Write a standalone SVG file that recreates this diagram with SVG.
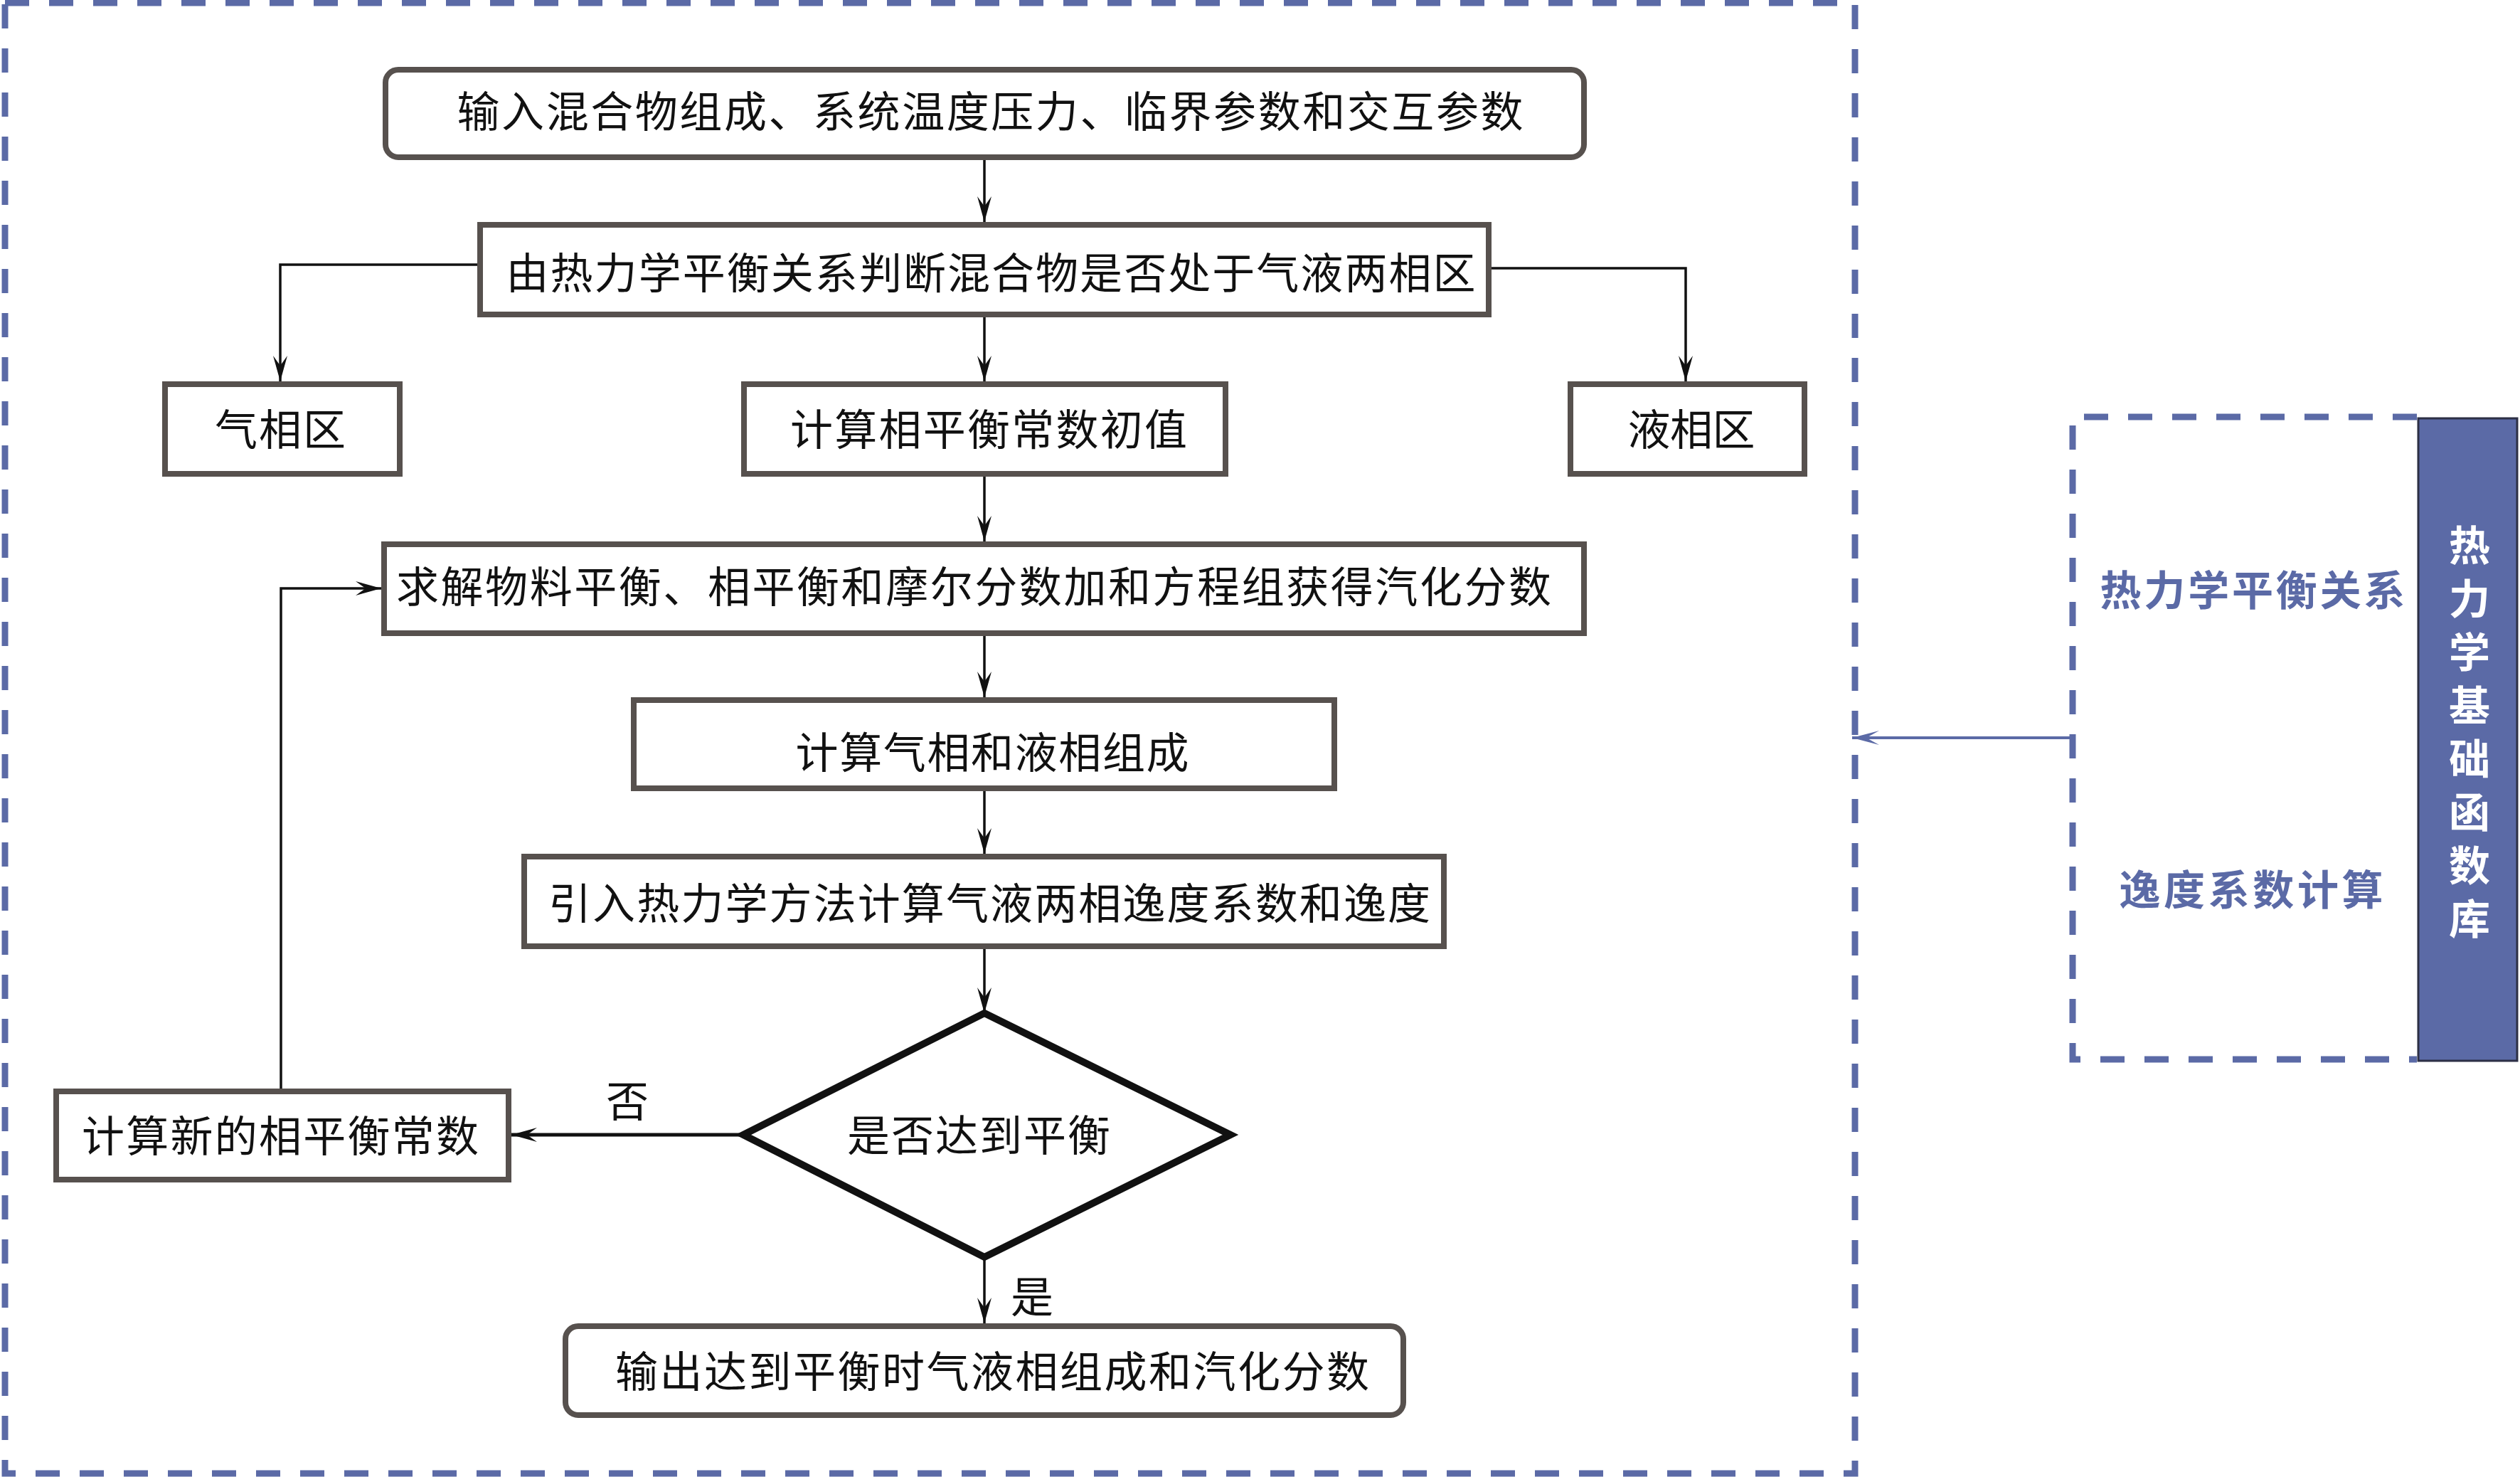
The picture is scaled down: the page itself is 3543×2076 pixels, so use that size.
<svg xmlns="http://www.w3.org/2000/svg" width="3543" height="2076" viewBox="0 0 3543 2076">
<style>
.box{fill:#ffffff;stroke:#57514e;stroke-width:8}
.dia{fill:#ffffff;stroke:#111111;stroke-width:10;stroke-linejoin:miter}
.t{font-family:"Noto Sans CJK SC","Noto Sans CJK JP",sans-serif;font-size:60px;fill:#111111;text-anchor:middle}
.bt{font-family:"Noto Sans CJK SC","Noto Sans CJK JP",sans-serif;font-size:58px;fill:#5b6aa6;text-anchor:middle;font-weight:bold}
.wt{font-family:"Noto Sans CJK SC","Noto Sans CJK JP",sans-serif;font-size:58px;fill:#ffffff;font-weight:bold;writing-mode:vertical-rl;text-orientation:upright}
.ln{fill:none;stroke:#111111;stroke-width:3.5;marker-end:url(#ah)}
.ln2{fill:none;stroke:#111111;stroke-width:5;marker-end:url(#ah)}
.dash{fill:none;stroke:#5b6aa6;stroke-width:9;stroke-dasharray:34 28}
</style>
<defs>
<marker id="ah" viewBox="-40 -12 42 24" refX="0" refY="0" markerWidth="42" markerHeight="24" markerUnits="userSpaceOnUse" orient="auto">
<path d="M0,0 L-36,-10 L-22,0 L-36,10 Z" fill="#111111"/>
</marker>
<marker id="ahb" viewBox="-40 -12 42 24" refX="0" refY="0" markerWidth="42" markerHeight="24" markerUnits="userSpaceOnUse" orient="auto">
<path d="M0,0 L-38,-10 L-20,0 L-38,10 Z" fill="#5b6aa6"/>
</marker>
</defs>
<rect width="3543" height="2076" fill="#ffffff"/>
<g id="outer-frame">
<rect class="dash" x="7" y="4" width="2601" height="2067"/>
</g>
<g id="library-frame">
<path class="dash" d="M3398,586 L2914,586 L2914,1489 L3398,1489" stroke-dasharray="36 27" stroke-width="8"/>
</g>
<g id="connectors">
<path class="ln" d="M1384,225 L1384,312"/>
<path class="ln" d="M671,372 L394,372 L394,536"/>
<path class="ln" d="M2097,377 L2370,377 L2370,536"/>
<path class="ln" d="M1384,446 L1384,536"/>
<path class="ln" d="M1384,670 L1384,761"/>
<path class="ln" d="M1384,894 L1384,980"/>
<path class="ln" d="M1384,1112 L1384,1200"/>
<path class="ln" d="M1384,1334 L1384,1424"/>
<path class="ln2" d="M1045,1595 L719,1595"/>
<path class="ln" d="M1384,1767 L1384,1860"/>
<path class="ln" d="M395,1530 L395,827 L536,827"/>
<path d="M2914,1037 L2604,1037" fill="none" stroke="#5b6aa6" stroke-width="4" marker-end="url(#ahb)"/>
<text class="t" x="882" y="1570">否</text>
<text class="t" x="1451" y="1845">是</text>
</g>
<g id="n-input">
<rect class="box" x="542" y="98" width="1685" height="123" rx="18"/>
<text class="t" x="1392" y="179" textLength="1499" lengthAdjust="spacing">输入混合物组成、系统温度压力、临界参数和交互参数</text>
</g>
<g id="n-judge">
<rect class="box" x="675" y="316" width="1418" height="126"/>
<text class="t" x="1393" y="406" textLength="1363" lengthAdjust="spacing">由热力学平衡关系判断混合物是否处于气液两相区</text>
</g>
<g id="n-gas">
<rect class="box" x="232" y="540" width="330" height="126"/>
<text class="t" x="394" y="626" textLength="184" lengthAdjust="spacing">气相区</text>
</g>
<g id="n-init">
<rect class="box" x="1046" y="540" width="677" height="126"/>
<text class="t" x="1390" y="626" textLength="558" lengthAdjust="spacing">计算相平衡常数初值</text>
</g>
<g id="n-liquid">
<rect class="box" x="2208" y="540" width="329" height="126"/>
<text class="t" x="2378" y="626" textLength="179" lengthAdjust="spacing">液相区</text>
</g>
<g id="n-solve">
<rect class="box" x="540" y="765" width="1687" height="125"/>
<text class="t" x="1369" y="847" textLength="1624" lengthAdjust="spacing">求解物料平衡、相平衡和摩尔分数加和方程组获得汽化分数</text>
</g>
<g id="n-comp">
<rect class="box" x="891" y="984" width="985" height="124"/>
<text class="t" x="1395" y="1080" textLength="553" lengthAdjust="spacing">计算气相和液相组成</text>
</g>
<g id="n-fug">
<rect class="box" x="737" y="1204" width="1293" height="126"/>
<text class="t" x="1391" y="1292" textLength="1240" lengthAdjust="spacing">引入热力学方法计算气液两相逸度系数和逸度</text>
</g>
<g id="n-decision">
<polygon class="dia" points="1384,1424 1730,1595 1384,1767 1045,1595"/>
<text class="t" x="1376" y="1618" textLength="370" lengthAdjust="spacing">是否达到平衡</text>
</g>
<g id="n-newk">
<rect class="box" x="79" y="1534" width="636" height="124"/>
<text class="t" x="394" y="1619" textLength="558" lengthAdjust="spacing">计算新的相平衡常数</text>
</g>
<g id="n-output">
<rect class="box" x="795" y="1864" width="1178" height="125" rx="18"/>
<text class="t" x="1395" y="1950" textLength="1060" lengthAdjust="spacing">输出达到平衡时气液相组成和汽化分数</text>
</g>
<g id="n-library">
<text class="bt" x="3167" y="851" textLength="429" lengthAdjust="spacing">热力学平衡关系</text>
<text class="bt" x="3165" y="1272" textLength="371" lengthAdjust="spacing">逸度系数计算</text>
<rect x="3400" y="588" width="139" height="903" fill="#5b6aa6" stroke="#2c2f45" stroke-width="3"/>
<text class="wt" x="3472" y="737" letter-spacing="17">热力学基础函数库</text>
</g>
</svg>
